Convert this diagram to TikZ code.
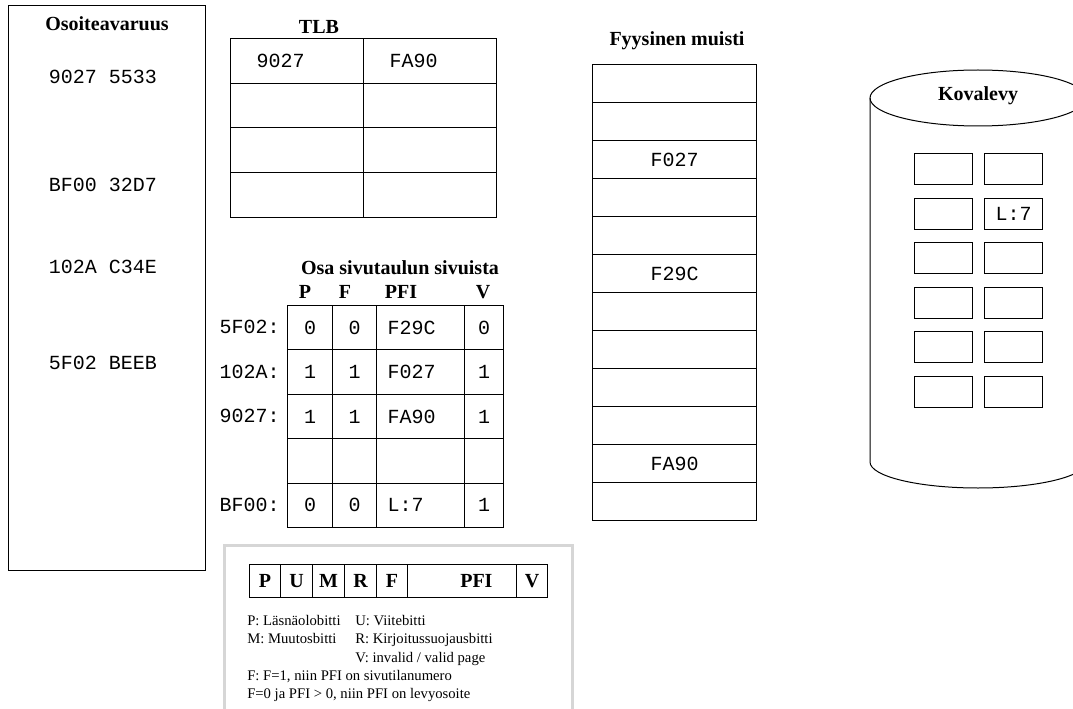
\documentclass[tikz,border=0pt]{standalone}
\usepackage{fontspec}
\setmainfont{Liberation Serif}
\setmonofont{Liberation Mono}
\definecolor{framegray}{RGB}{214,214,214}

\begin{document}
\begin{tikzpicture}[
  x=0.75pt, y=-0.75pt,
  ttl/.style={font=\fontsize{15}{18}\selectfont\bfseries, inner sep=0pt, anchor=base},
  hex/.style={font=\fontsize{15}{18}\selectfont\ttfamily, inner sep=0pt},
  cell/.style 2 args={draw, line width=0.75pt, anchor=north west, inner sep=0pt,
    minimum width=#1*0.75pt, minimum height=#2*0.75pt, hex},
  bit/.style={cell={#1}{33}, font=\fontsize{15}{18}\selectfont\bfseries},
  note/.style={font=\fontsize{11}{13}\selectfont, inner sep=0pt, anchor=base west}
]
\useasboundingbox (0,0) rectangle (1073,709);
\clip (0,0) rectangle (1073,709);

% address space
\node[cell={197}{565}] (addr) at (8,5) {};
\node[ttl] (addrtitle) at (107,30.5) {Osoiteavaruus};
\node[hex] (va1) at (103,77) {9027 5533};
\node[hex] (va2) at (103,185) {BF00 32D7};
\node[hex] (va3) at (103,267) {102A C34E};
\node[hex] (va4) at (103,363) {5F02 BEEB};

% TLB
\node[ttl] (tlbtitle) at (319,33.5) {TLB};
\foreach \r/\k/\f in {0/9027/FA90, 1/{}/{}, 2/{}/{}, 3/{}/{}} {
  \node[cell={133}{44.75}, text width=81*0.75pt, align=left, inner xsep=26*0.75pt]
    (tlbk\r) at (230,{38+44.75*\r}) {\k};
  \node[cell={133}{44.75}, text width=81*0.75pt, align=left, inner xsep=26*0.75pt]
    (tlbf\r) at (363,{38+44.75*\r}) {\f};
}

% page table
\node[ttl] (pttitle) at (400,274.5) {Osa sivutaulun sivuista};
\node[ttl] (hP) at (305,298.5) {P};
\node[ttl] (hF) at (345,298.5) {F};
\node[ttl] (hPFI) at (401,298.5) {PFI};
\node[ttl] (hV) at (483,298.5) {V};
\foreach \r/\lab/\p/\f/\pfi/\v in {0/5F02:/0/0/F29C/0, 1/102A:/1/1/F027/1,
    2/9027:/1/1/FA90/1, 3/{}/{}/{}/{}/{}, 4/BF00:/0/0/L:7/1} {
  \node[hex, anchor=east] (pt\r-lab) at (280,{327.2+44.4*\r}) {\lab};
  \node[cell={45}{44.4}] (pt\r-p) at (287,{305+44.4*\r}) {\p};
  \node[cell={44}{44.4}] (pt\r-f) at (332,{305+44.4*\r}) {\f};
  \node[cell={88}{44.4}, text width=66*0.75pt, align=left, inner xsep=11*0.75pt]
    (pt\r-pfi) at (376,{305+44.4*\r}) {\pfi};
  \node[cell={39}{44.4}] (pt\r-v) at (464,{305+44.4*\r}) {\v};
}

% physical memory
\node[ttl] (memtitle) at (677,46) {Fyysinen muisti};
\foreach \t [count=\i from 0] in {{},{},F027,{},{},F29C,{},{},{},{},FA90,{}}
  \node[cell={164}{38}] (mem\i) at (592,{64+38*\i}) {\t};

% disk
\draw[line width=0.75pt] (978,98) ellipse [x radius=108, y radius=28];
\draw[line width=0.75pt] (870,98) -- (870,462)
  arc[start angle=180, end angle=0, x radius=108, y radius=26] -- (1086,98);
\node[ttl] (disktitle) at (978,101) {Kovalevy};
\foreach \r/\a/\b in {0/{}/{}, 1/{}/L:7, 2/{}/{}, 3/{}/{}, 4/{}/{}, 5/{}/{}} {
  \node[cell={58}{31}] (dskl\r) at (914,{153+44.6*\r}) {\a};
  \node[cell={58}{31}] (dskr\r) at (984,{153+44.6*\r}) {\b};
}

% legend
\draw[framegray, line width=2.25pt] (224,715) -- (224,545) -- (572,545) -- (572,715);
\foreach \x/\w/\b in {249/31/P, 280/32/U, 312/32/M, 344/32/R, 376/31/F}
  \node[bit=\w] (bit\b) at (\x,564) {\b};
\node[bit=109, text width=61*0.75pt, align=right, inner xsep=24*0.75pt] (bitPFI) at (407,564) {PFI};
\node[bit=31] (bitV) at (516,564) {V};
\node[note] (nP) at (247,625) {P: Läsnäolobitti};
\node[note] (nU) at (355,625) {U: Viitebitti};
\node[note] (nM) at (247,643) {M: Muutosbitti};
\node[note] (nR) at (355,643) {R: Kirjoitussuojausbitti};
\node[note] (nV) at (355,662) {V: invalid / valid page};
\node[note] (nF1) at (247,680) {F: F=1, niin PFI on sivutilanumero};
\node[note] (nF0) at (247,698) {F=0 ja PFI > 0, niin PFI on levyosoite};
\end{tikzpicture}
\end{document}
